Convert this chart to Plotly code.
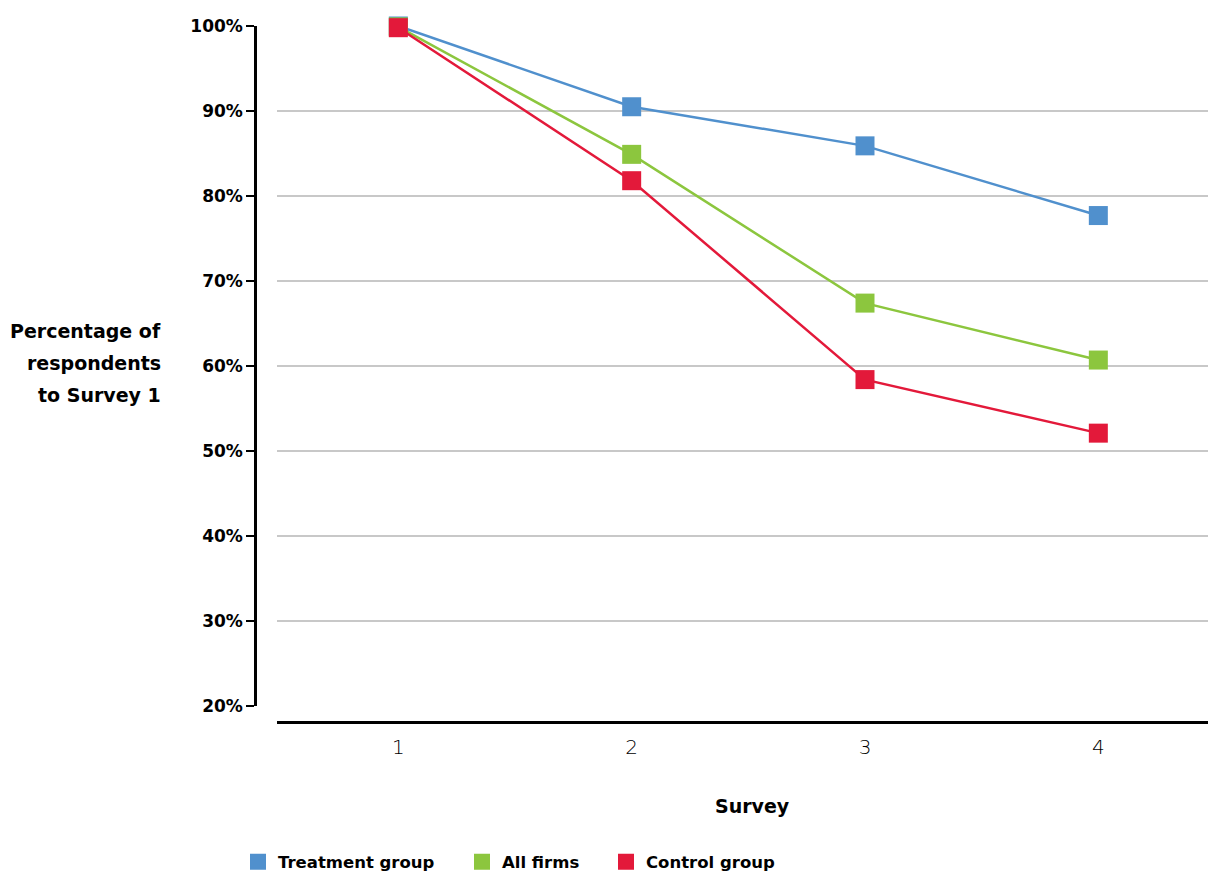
import plotly.graph_objects as go

# Survey rounds and share of Survey 1 respondents still responding (%)
surveys = [1, 2, 3, 4]
treatment_group = [100.0, 90.5, 85.9, 77.7]
all_firms = [99.9, 84.9, 67.4, 60.7]
control_group = [99.8, 81.8, 58.4, 52.1]

y_ticks = [20, 30, 40, 50, 60, 70, 80, 90, 100]
y_tick_text = [f"{v}%" for v in y_ticks]

series = [
    ("Treatment group", treatment_group, "#5090CD"),
    ("All firms", all_firms, "#8CC63E"),
    ("Control group", control_group, "#E3193A"),
]

FONT = "DejaVu Sans"

L, R, T, B = 255, 0, 26, 151
W, H = 1208, 873
plot_w = W - L - R
plot_h = H - T - B


def px_x(x):
    return (x - L) / plot_w


def px_y(y):
    return (H - B - y) / plot_h


fig = go.Figure()
for name, values, color in series:
    fig.add_trace(go.Scatter(
        x=surveys, y=values, mode="lines+markers", name=name,
        line=dict(color=color, width=2.5),
        marker=dict(symbol="square", size=19, color=color),
        cliponaxis=False, showlegend=False,
    ))

# each legend entry gets its own legend box so the spacing can be set
legend_names = ["legend", "legend2", "legend3"]
legend_left = [238, 462, 606]
for (name, values, color), lg in zip(series, legend_names):
    fig.add_trace(go.Scatter(
        x=[None], y=[None], mode="markers", name=name,
        marker=dict(symbol="square", size=19, color=color),
        showlegend=True, legend=lg,
    ))

legend_style = dict(
    orientation="h", xanchor="left", yanchor="middle",
    y=px_y(862), font=dict(size=16.5, weight=700),
    itemsizing="trace", bgcolor="rgba(0,0,0,0)",
)

fig.update_layout(
    width=W, height=H,
    margin=dict(l=L, r=R, t=T, b=B, autoexpand=False),
    paper_bgcolor="white", plot_bgcolor="white",
    font=dict(family=FONT, color="black"),
    xaxis=dict(
        domain=[px_x(277), 1],
        range=[0.48, 4.47],
        tickvals=surveys, ticktext=[str(s) for s in surveys],
        tickfont=dict(size=20, weight=300, color="black"),
        showgrid=False, zeroline=False,
        showline=True, linecolor="black", linewidth=2.5,
        anchor="free", position=0,
        ticks="", ticklabelstandoff=6,
    ),
    yaxis=dict(
        domain=[px_y(706), 1],
        range=[20, 100],
        tickvals=y_ticks, ticktext=y_tick_text,
        tickfont=dict(size=17, weight=700),
        showgrid=True, gridcolor="#C8C8C8", gridwidth=1.5,
        zeroline=False,
        showline=True, linecolor="black", linewidth=2.5,
        ticks="outside", ticklen=8, tickwidth=2, tickcolor="black",
        anchor="free", position=0,
    ),
    legend=dict(x=px_x(legend_left[0]), **legend_style),
    legend2=dict(x=px_x(legend_left[1]), **legend_style),
    legend3=dict(x=px_x(legend_left[2]), **legend_style),
)

# y-axis title, one line per row for wider line spacing
for text, yc in [("Percentage of", 331), ("respondents", 363), ("to Survey 1", 395)]:
    fig.add_annotation(
        text=text, x=px_x(163), xref="paper", xanchor="right",
        y=px_y(yc), yref="paper", yanchor="middle",
        showarrow=False, font=dict(size=19, weight=700),
    )

fig.add_annotation(
    text="Survey", x=px_x(752), xref="paper", xanchor="center",
    y=px_y(806), yref="paper", yanchor="middle",
    showarrow=False, font=dict(size=19, weight=700),
)

fig.write_html("out.html")
